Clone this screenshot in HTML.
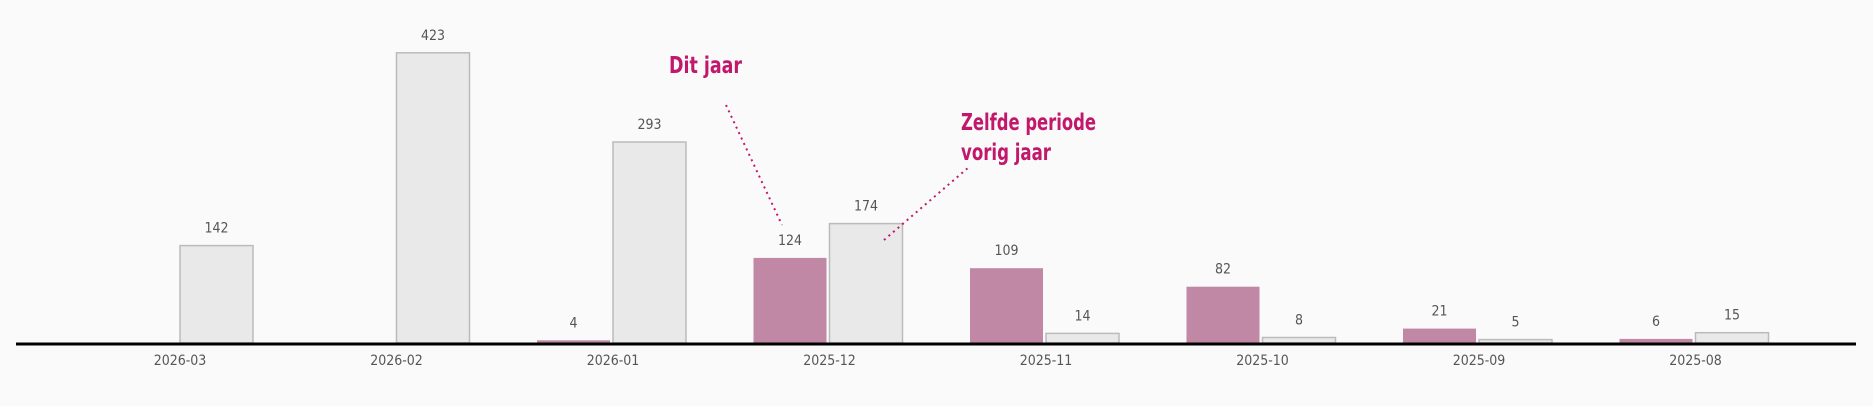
<!DOCTYPE html>
<html><head><meta charset="utf-8"><style>
html,body{margin:0;padding:0;background:#fafafa;}
svg{display:block;}
.v{font-family:"DejaVu Sans Condensed","Liberation Sans",sans-serif;font-size:14px;fill:#555;text-anchor:middle;}
.a{font-family:"DejaVu Sans Condensed","Liberation Sans",sans-serif;font-size:14px;fill:#555;text-anchor:middle;}
.n{font-family:"DejaVu Sans Condensed","Liberation Sans",sans-serif;font-size:23px;font-weight:bold;fill:#c2186b;}
.g{fill:#e9e9e9;stroke:#bbb;stroke-width:1.5;}
.p{fill:#c088a4;}
</style></head><body>
<svg width="1873" height="406" viewBox="0 0 1873 406" xmlns="http://www.w3.org/2000/svg">
<rect width="1873" height="406" fill="#fafafa"/>
<rect class="g" x="180" y="245.6" width="73" height="97.4"/>
<rect class="g" x="396.5" y="52.8" width="73" height="290.2"/>
<rect class="g" x="613" y="142" width="73" height="201"/>
<rect class="g" x="829.5" y="223.6" width="73" height="119.4"/>
<rect class="g" x="1046" y="333.4" width="73" height="9.6"/>
<rect class="g" x="1262.5" y="337.5" width="73" height="5.5"/>
<rect class="g" x="1479" y="339.6" width="73" height="3.4"/>
<rect class="g" x="1695.5" y="332.7" width="73" height="10.3"/>
<rect class="p" x="537" y="340.3" width="73" height="2.7"/>
<rect class="p" x="753.5" y="257.9" width="73" height="85.1"/>
<rect class="p" x="970" y="268.2" width="73" height="74.8"/>
<rect class="p" x="1186.5" y="286.7" width="73" height="56.3"/>
<rect class="p" x="1403" y="328.6" width="73" height="14.4"/>
<rect class="p" x="1619.5" y="338.9" width="73" height="4.1"/>
<text class="v" x="216.5" y="232.6">142</text>
<text class="v" x="433" y="39.8">423</text>
<text class="v" x="649.5" y="129">293</text>
<text class="v" x="866" y="210.6">174</text>
<text class="v" x="1082.5" y="320.4">14</text>
<text class="v" x="1299" y="324.5">8</text>
<text class="v" x="1515.5" y="326.6">5</text>
<text class="v" x="1732" y="319.7">15</text>
<text class="v" x="573.5" y="327.3">4</text>
<text class="v" x="790" y="244.9">124</text>
<text class="v" x="1006.5" y="255.2">109</text>
<text class="v" x="1223" y="273.7">82</text>
<text class="v" x="1439.5" y="315.6">21</text>
<text class="v" x="1656" y="325.9">6</text>
<line x1="16" y1="344" x2="1856" y2="344" stroke="#000" stroke-width="3"/>
<text class="a" x="180" y="365">2026-03</text>
<text class="a" x="396.5" y="365">2026-02</text>
<text class="a" x="613" y="365">2026-01</text>
<text class="a" x="829.5" y="365">2025-12</text>
<text class="a" x="1046" y="365">2025-11</text>
<text class="a" x="1262.5" y="365">2025-10</text>
<text class="a" x="1479" y="365">2025-09</text>
<text class="a" x="1695.5" y="365">2025-08</text>
<text class="n" x="669" y="73" textLength="73" lengthAdjust="spacingAndGlyphs">Dit jaar</text>
<line x1="726" y1="105" x2="782" y2="225" stroke="#c2186b" stroke-width="2" stroke-dasharray="2,4"/>
<text class="n" x="961" y="130" textLength="135" lengthAdjust="spacingAndGlyphs">Zelfde periode</text>
<text class="n" x="961" y="160" textLength="90" lengthAdjust="spacingAndGlyphs">vorig jaar</text>
<line x1="884" y1="240" x2="969" y2="167" stroke="#c2186b" stroke-width="2" stroke-dasharray="2,4"/>
</svg>
</body></html>
